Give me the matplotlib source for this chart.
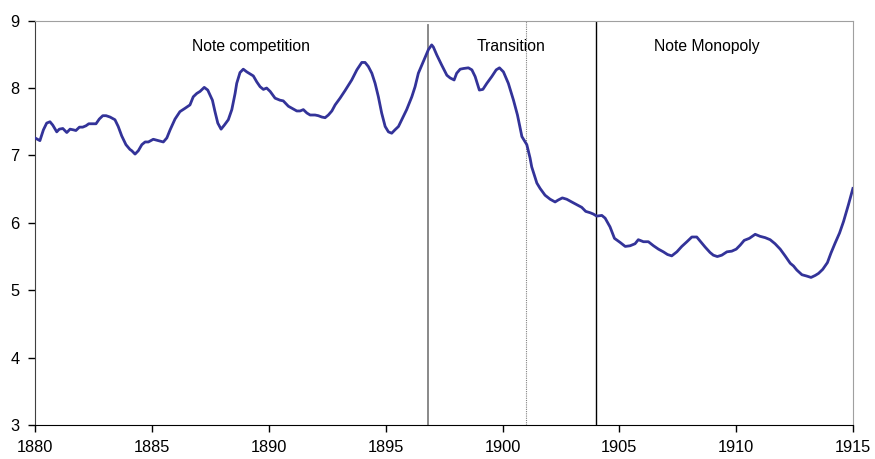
import matplotlib
matplotlib.use("Agg")
from matplotlib import pyplot as plt

plt.rcParams['font.family'] = ['Liberation Sans', 'DejaVu Sans']

# Series (year, value)
years = [1880.00, 1880.21, 1880.36, 1880.50, 1880.64, 1880.76, 1880.93, 1881.04, 1881.19, 1881.36,
         1881.50, 1881.64, 1881.75, 1881.90, 1882.04, 1882.18, 1882.30, 1882.43, 1882.61, 1882.75,
         1882.90, 1883.04, 1883.21, 1883.42, 1883.56, 1883.71, 1883.89, 1884.06, 1884.14, 1884.28,
         1884.42, 1884.57, 1884.71, 1884.85, 1885.06, 1885.28, 1885.49, 1885.64, 1885.78, 1885.99,
         1886.20, 1886.42, 1886.63, 1886.77, 1886.92, 1887.06, 1887.24, 1887.39, 1887.59, 1887.70,
         1887.82, 1887.96, 1888.10, 1888.27, 1888.42, 1888.56, 1888.63, 1888.77, 1888.91, 1889.06,
         1889.20, 1889.34, 1889.49, 1889.63, 1889.77, 1889.91, 1890.06, 1890.27, 1890.48, 1890.62,
         1890.84, 1891.05, 1891.20, 1891.34, 1891.48, 1891.63, 1891.77, 1891.98, 1892.12, 1892.27,
         1892.41, 1892.55, 1892.70, 1892.84, 1893.05, 1893.26, 1893.55, 1893.77, 1893.98, 1894.12,
         1894.26, 1894.41, 1894.55, 1894.69, 1894.83, 1894.98, 1895.12, 1895.26, 1895.40, 1895.55,
         1895.69, 1895.90, 1896.12, 1896.26, 1896.40, 1896.61, 1896.83, 1896.97, 1897.04, 1897.19,
         1897.40, 1897.62, 1897.76, 1897.93, 1898.04, 1898.19, 1898.33, 1898.54, 1898.69, 1898.83,
         1899.01, 1899.16, 1899.33, 1899.54, 1899.73, 1899.87, 1900.04, 1900.25, 1900.47, 1900.64,
         1900.83, 1901.04, 1901.18, 1901.25, 1901.47, 1901.61, 1901.82, 1902.04, 1902.25, 1902.39,
         1902.56, 1902.75, 1902.96, 1903.18, 1903.39, 1903.56, 1903.75, 1903.89, 1904.03, 1904.25,
         1904.39, 1904.60, 1904.79, 1905.03, 1905.25, 1905.46, 1905.67, 1905.81, 1906.03, 1906.24,
         1906.46, 1906.67, 1906.88, 1907.06, 1907.24, 1907.46, 1907.67, 1907.89, 1908.10, 1908.31,
         1908.48, 1908.67, 1908.88, 1909.02, 1909.19, 1909.38, 1909.60, 1909.81, 1910.00, 1910.17,
         1910.34, 1910.56, 1910.81, 1911.02, 1911.24, 1911.45, 1911.66, 1911.88, 1912.09, 1912.31,
         1912.45, 1912.59, 1912.81, 1913.02, 1913.20, 1913.38, 1913.52, 1913.70, 1913.90, 1914.05,
         1914.23, 1914.42, 1914.59, 1914.80, 1914.99]
values = [7.26, 7.22, 7.38, 7.48, 7.50, 7.45, 7.35, 7.39, 7.40, 7.34,
          7.39, 7.38, 7.37, 7.42, 7.42, 7.44, 7.47, 7.47, 7.47, 7.54,
          7.59, 7.59, 7.57, 7.53, 7.43, 7.29, 7.16, 7.09, 7.07, 7.02,
          7.07, 7.16, 7.20, 7.20, 7.24, 7.22, 7.20, 7.26, 7.38, 7.54,
          7.65, 7.70, 7.75, 7.87, 7.92, 7.95, 8.01, 7.97, 7.82, 7.65,
          7.48, 7.39, 7.45, 7.53, 7.68, 7.92, 8.07, 8.23, 8.28, 8.24,
          8.21, 8.18, 8.09, 8.02, 7.98, 8.00, 7.95, 7.85, 7.82, 7.81,
          7.73, 7.69, 7.66, 7.66, 7.68, 7.63, 7.60, 7.60, 7.59, 7.57,
          7.56, 7.60, 7.66, 7.75, 7.85, 7.96, 8.12, 8.27, 8.38, 8.38,
          8.32, 8.22, 8.07, 7.87, 7.63, 7.43, 7.35, 7.33, 7.38, 7.43,
          7.53, 7.68, 7.87, 8.02, 8.22, 8.39, 8.57, 8.64, 8.61, 8.49,
          8.34, 8.19, 8.15, 8.12, 8.22, 8.28, 8.29, 8.30, 8.27, 8.17,
          7.97, 7.98, 8.07, 8.17, 8.27, 8.30, 8.24, 8.07, 7.82, 7.60,
          7.28, 7.16, 6.96, 6.83, 6.59, 6.51, 6.41, 6.35, 6.31, 6.34,
          6.37, 6.35, 6.31, 6.27, 6.23, 6.17, 6.15, 6.13, 6.10, 6.11,
          6.07, 5.94, 5.77, 5.71, 5.65, 5.66, 5.69, 5.75, 5.72, 5.72,
          5.66, 5.61, 5.57, 5.53, 5.51, 5.57, 5.65, 5.72, 5.79, 5.79,
          5.72, 5.64, 5.56, 5.52, 5.50, 5.52, 5.57, 5.58, 5.61, 5.67,
          5.74, 5.77, 5.83, 5.80, 5.78, 5.75, 5.69, 5.61, 5.51, 5.40,
          5.36, 5.30, 5.23, 5.21, 5.19, 5.22, 5.25, 5.31, 5.41, 5.55,
          5.70, 5.85, 6.02, 6.27, 6.51]

# Regime boundaries and labels
break_start = 1896.83
break_mid = 1901.0
break_end = 1904.0
period_labels = ['Note competition', 'Transition', 'Note Monopoly']
label_x = [1889.22, 1900.38, 1908.75]

fig = plt.figure(figsize=(8.75, 4.59), dpi=100)
ax = fig.add_axes([0.04, 0.074, 0.935, 0.881])

ax.plot(years, values, color='#333399', linewidth=2.0, zorder=3)

ax.plot([break_start, break_start], [3, 8.93], color='#808080', linewidth=1.3, zorder=2)
ax.axvline(break_mid, color='#808080', linewidth=0.8, linestyle=(0, (1, 1)), zorder=2)
ax.axvline(break_end, color='black', linewidth=1.0, zorder=2)

for lbl, lx in zip(period_labels, label_x):
    ax.text(lx, 8.62, lbl, ha='center', va='center', fontsize=11.3)

ax.set_xlim(1880, 1915)
ax.set_ylim(3, 9)
ax.set_xticks(range(1880, 1916, 5))
ax.set_yticks(range(3, 10))
ax.tick_params(axis='both', direction='out', length=5, width=1, labelsize=11.8, pad=6)

ax.spines['left'].set_color('#404040')
ax.spines['bottom'].set_color('black')
ax.spines['top'].set_color('#a0a0a0')
ax.spines['right'].set_color('#a0a0a0')

plt.savefig('out.png', dpi=100)
